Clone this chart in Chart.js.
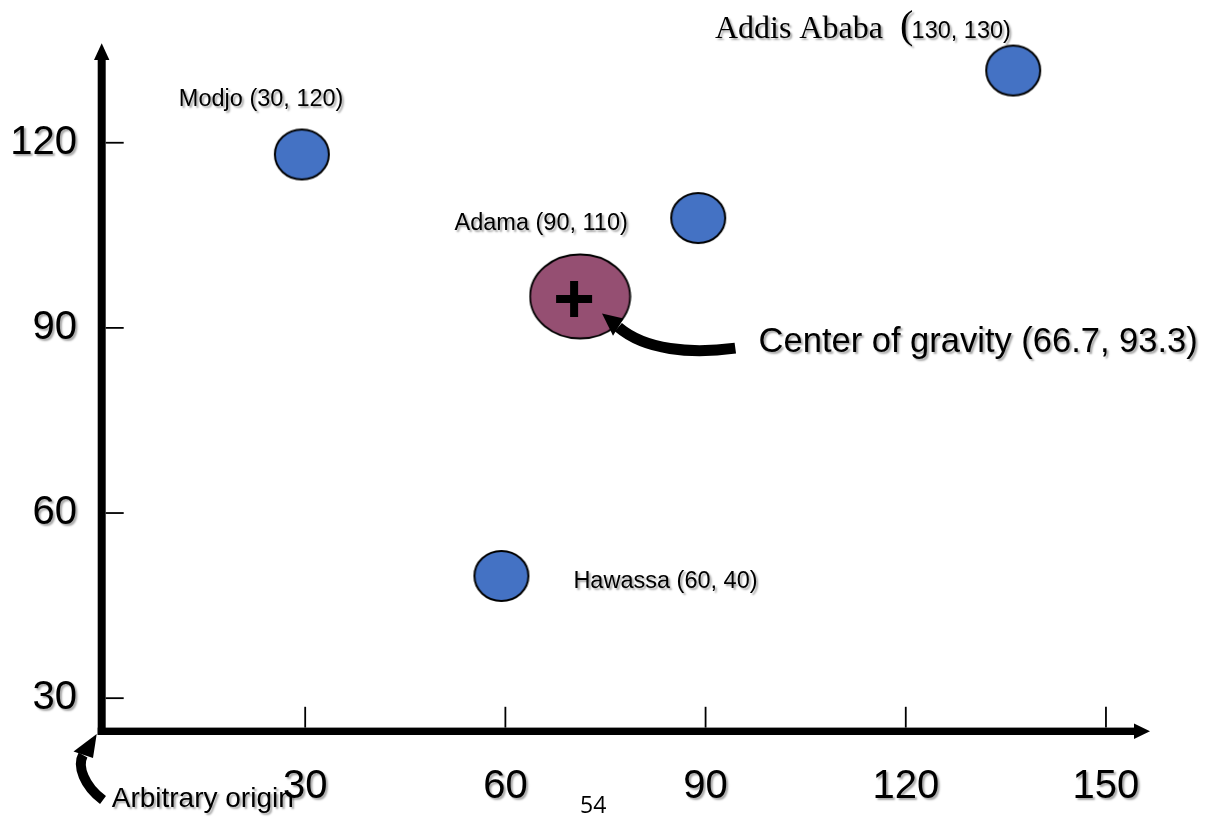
<!DOCTYPE html>
<html>
<head>
<meta charset="utf-8">
<title>Center of gravity</title>
<script src="https://cdn.jsdelivr.net/npm/chart.js@4.4.1/dist/chart.umd.min.js"></script>
<style>
  html, body { margin: 0; padding: 0; background: #fff; }
  canvas { display: block; }
</style>
</head>
<body>
<canvas id="cogChart" width="1209" height="817"></canvas>
<script>
// Cities and where they sit on the picture
const cityNames = ['Modjo', 'Adama', 'Addis Ababa', 'Hawassa'];
const cityCoords = ['(30, 120)', '(90, 110)', '(130, 130)', '(60, 40)'];
const cityX = [29.5, 88.9, 136.1, 59.4];
const cityY = [118.1, 107.8, 131.7, 49.8];

// Center of gravity (ellipse and the plus sign inside it)
const cogX = [71.2];
const cogY = [95.1];
const plusX = [70.3];
const plusY = [94.7];
const cogLabel = 'Center of gravity (66.7, 93.3)';
const originLabel = 'Arbitrary origin';
const pageNumber = '54';

// Axes
const xTicks = [30, 60, 90, 120, 150];
const yTicks = [30, 60, 90, 120];
const xRange = [0, 156.6];
const yRange = [24.6, 136];

const SANS = '"Liberation Sans", Arial, sans-serif';
const SERIF = '"Liberation Serif", "Times New Roman", serif';

function ellipseImage(w, h, fill, lw) {
  const c = document.createElement('canvas');
  c.width = w + lw + 2;
  c.height = h + lw + 2;
  const g = c.getContext('2d');
  g.beginPath();
  g.ellipse(c.width / 2, c.height / 2, w / 2, h / 2, 0, 0, Math.PI * 2);
  g.fillStyle = fill;
  g.fill();
  g.lineWidth = lw;
  g.strokeStyle = '#000';
  g.stroke();
  return c;
}

function softShadow(ctx) {
  ctx.shadowColor = 'rgba(0, 0, 0, 0.35)';
  ctx.shadowOffsetX = 2;
  ctx.shadowOffsetY = 2;
  ctx.shadowBlur = 2;
}

function noShadow(ctx) {
  ctx.shadowColor = 'rgba(0, 0, 0, 0)';
  ctx.shadowOffsetX = 0;
  ctx.shadowOffsetY = 0;
  ctx.shadowBlur = 0;
}

const cityImg = ellipseImage(54, 50, '#4472C4', 2);
const cogImg = ellipseImage(100, 84, '#954F72', 1.8);

// label placement, pixel offsets from each city point
const cityLabelPos = [
  { dx: -123, dy: -48 },
  { dx: -243.7, dy: 12.2 },
  { dx: -298.3, dy: -32.8, serif: true },
  { dx: 72, dy: 12 }
];

const overlay = {
  id: 'overlay',
  beforeDraw(chart) {
    // tick labels get the same soft shadow as the slide text
    softShadow(chart.ctx);
  },
  beforeDatasetsDraw(chart) {
    noShadow(chart.ctx);
  },
  afterDraw(chart) {
    const ctx = chart.ctx;
    const xs = chart.scales.x;
    const ys = chart.scales.y;
    const area = chart.chartArea;
    const ax = area.left - 3.3;
    const ay = area.bottom - 0.2;

    ctx.save();
    noShadow(ctx);
    ctx.fillStyle = '#000';
    ctx.strokeStyle = '#000';

    // y axis with arrow
    ctx.fillRect(ax - 4, area.top + 15, 8, ay + 3.7 - (area.top + 15));
    ctx.beginPath();
    ctx.moveTo(ax, area.top - 0.7);
    ctx.lineTo(ax + 7.7, area.top + 16);
    ctx.lineTo(ax - 7.7, area.top + 16);
    ctx.closePath();
    ctx.fill();

    // x axis with arrow
    ctx.fillRect(ax - 4, ay - 3.7, area.right - 15 - (ax - 4), 7.4);
    ctx.beginPath();
    ctx.moveTo(area.right, ay);
    ctx.lineTo(area.right - 16, ay - 7.7);
    ctx.lineTo(area.right - 16, ay + 7.7);
    ctx.closePath();
    ctx.fill();

    // tick marks point inward
    ctx.lineWidth = 1.8;
    ys.ticks.forEach(t => {
      const y = ys.getPixelForValue(t.value);
      ctx.beginPath();
      ctx.moveTo(ax + 4, y);
      ctx.lineTo(ax + 22, y);
      ctx.stroke();
    });
    xs.ticks.forEach(t => {
      const x = xs.getPixelForValue(t.value);
      ctx.beginPath();
      ctx.moveTo(x, ay - 24.5);
      ctx.lineTo(x, ay - 3.7);
      ctx.stroke();
    });

    // curved arrow to the center of gravity
    const cx = xs.getPixelForValue(cogX[0]);
    const cy = ys.getPixelForValue(cogY[0]);
    ctx.lineWidth = 11;
    ctx.lineCap = 'butt';
    ctx.beginPath();
    ctx.moveTo(cx + 38.2, cy + 30.7);
    ctx.bezierCurveTo(cx + 65.2, cy + 53.7, cx + 110.2, cy + 57.7, cx + 155.2, cy + 51.7);
    ctx.stroke();
    ctx.beginPath();
    ctx.moveTo(cx + 21.9, cy + 17);
    ctx.lineTo(cx + 43.5, cy + 22);
    ctx.lineTo(cx + 32.9, cy + 39.4);
    ctx.closePath();
    ctx.fill();

    // curved arrow to the origin
    const ox = area.left;
    const oy = area.bottom;
    ctx.lineWidth = 10;
    ctx.beginPath();
    ctx.moveTo(ox - 22, oy + 23.5);
    ctx.bezierCurveTo(ox - 28, oy + 34.5, ox - 21, oy + 54.5, ox - 2, oy + 68.5);
    ctx.stroke();
    ctx.beginPath();
    ctx.moveTo(ox - 8.3, oy + 2.5);
    ctx.lineTo(ox - 31.5, oy + 20);
    ctx.lineTo(ox - 12, oy + 26.5);
    ctx.closePath();
    ctx.fill();

    // labels
    softShadow(ctx);
    ctx.textAlign = 'left';
    ctx.textBaseline = 'alphabetic';
    cityNames.forEach((name, i) => {
      const px = xs.getPixelForValue(cityX[i]);
      const py = ys.getPixelForValue(cityY[i]);
      const pos = cityLabelPos[i];
      const lx = px + pos.dx;
      const ly = py + pos.dy;
      if (pos.serif) {
        ctx.font = '32px ' + SERIF;
        ctx.fillText(name, lx, ly);
        ctx.font = '40px ' + SERIF;
        ctx.fillText('(', lx + 185, ly);
        ctx.font = '23.5px ' + SANS;
        ctx.fillText(cityCoords[i].slice(1), lx + 196.7, ly);
      } else {
        ctx.font = '23.5px ' + SANS;
        ctx.fillText(name + ' ' + cityCoords[i], lx, ly);
      }
    });

    ctx.font = '34.5px ' + SANS;
    ctx.fillText(cogLabel, cx + 178.5, cy + 56);

    ctx.font = '28px ' + SANS;
    ctx.fillText(originLabel, ox + 6.7, oy + 75.2);

    noShadow(ctx);
    ctx.font = '23px "Open Sans", sans-serif';
    ctx.fillText(pageNumber, 580, 813);
    ctx.restore();
  }
};

const cogChart = new Chart(document.getElementById('cogChart'), {
  type: 'scatter',
  data: {
    datasets: [
      {
        label: 'marker',
        data: plusX.map((x, i) => ({ x: x, y: plusY[i] })),
        pointStyle: 'cross',
        pointRadius: 18,
        pointBorderWidth: 8,
        pointBorderColor: '#000'
      },
      {
        label: 'Center of gravity',
        data: cogX.map((x, i) => ({ x: x, y: cogY[i] })),
        pointStyle: cogImg,
        pointRadius: 50
      },
      {
        label: 'Cities',
        data: cityX.map((x, i) => ({ x: x, y: cityY[i] })),
        pointStyle: cityImg,
        pointRadius: 28
      }
    ]
  },
  options: {
    responsive: false,
    animation: false,
    devicePixelRatio: 1,
    events: [],
    clip: false,
    layout: {
      autoPadding: false,
      padding: { top: 44, right: 59, left: 0, bottom: 0 }
    },
    plugins: {
      legend: { display: false },
      tooltip: { enabled: false }
    },
    scales: {
      x: {
        type: 'linear',
        bounds: 'data',
        min: xRange[0],
        max: xRange[1],
        grid: { display: false, drawTicks: false },
        border: { display: false },
        afterBuildTicks: s => { s.ticks = xTicks.map(v => ({ value: v })); },
        afterFit: s => {
          s.height = 85.5;
          s.paddingLeft = 0;
          s.paddingRight = 0;
        },
        ticks: {
          font: { family: SANS, size: 40 },
          color: '#000',
          padding: 31,
          autoSkip: false,
          maxRotation: 0
        }
      },
      y: {
        type: 'linear',
        bounds: 'data',
        min: yRange[0],
        max: yRange[1],
        grid: { display: false, drawTicks: false },
        border: { display: false },
        afterBuildTicks: s => { s.ticks = yTicks.map(v => ({ value: v })); },
        afterFit: s => {
          s.width = 105;
          s.paddingTop = 0;
          s.paddingBottom = 0;
        },
        ticks: {
          font: { family: SANS, size: 40 },
          color: '#000',
          padding: 28,
          autoSkip: false
        }
      }
    }
  },
  plugins: [overlay]
});
</script>
</body>
</html>
